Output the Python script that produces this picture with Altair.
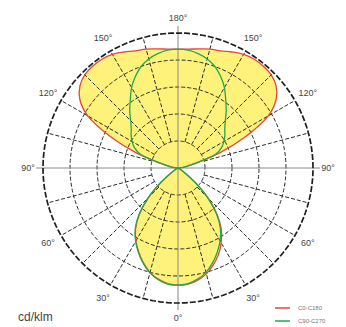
import numpy as np
import pandas as pd
import altair as alt

# ---- data (cd/klm), gamma angle measured from nadir (0 = down, 180 = up) ----
angles = list(range(0, 181, 5))
red_c0 = [217, 216, 211, 203, 191, 177, 160, 140, 113, 79, 42, 15, 4, 0, 0, 0, 0, 0, 0,
          6, 15, 33, 83, 139, 193, 222, 237, 244, 246, 246, 243, 237, 231, 228, 224, 221, 220]
red_c180 = [217, 215, 209, 200, 187, 172, 156, 137, 111, 78, 41, 15, 4, 0, 0, 0, 0, 0, 0,
            6, 15, 33, 83, 139, 193, 222, 237, 244, 246, 246, 243, 237, 231, 228, 224, 221, 220]
green_c90 = [217, 215, 209, 200, 187, 172, 156, 137, 111, 78, 41, 15, 4, 0, 0, 0, 0, 0, 0,
             6, 15, 33, 74, 89, 98, 106, 113, 124, 139, 154, 172, 187, 200, 209, 215, 219, 220]
green_c270 = [217, 216, 210, 201, 188, 173, 157, 138, 112, 78, 41, 15, 4, 0, 0, 0, 0, 0, 0,
              6, 15, 33, 74, 89, 98, 106, 113, 124, 139, 154, 172, 187, 200, 209, 215, 219, 220]
ring_values = [50, 100, 150, 200, 250]
spoke_angles = [15, 30, 45, 60, 75, 105, 120, 135, 150, 165]
label_angles = [0, 30, 60, 90, 120, 150, 180]
unit_label = "cd/klm"
legend_names = ["C0-C180", "C90-C270"]
legend_colors = ["#e8453c", "#22a84a"]

# ---- layout ----
W, H = 330, 319
CX, CY = 170, 160          # pixel centre inside the chart
K = 0.54                   # pixels per cd/klm
xs = alt.Scale(domain=[-CX / K, (W - CX) / K], nice=False, zero=False)
ys = alt.Scale(domain=[-(H - CY) / K, CY / K], nice=False, zero=False)
R_OUT = ring_values[-1]


def polygon(right, left):
    pts = []
    for a, r in zip(angles, right):
        t = np.radians(a)
        pts.append((r * np.sin(t), -r * np.cos(t)))
    for a, r in zip(reversed(angles), reversed(left)):
        t = np.radians(a)
        pts.append((-r * np.sin(t), -r * np.cos(t)))
    out = []
    for p in pts:
        if not out or abs(out[-1][0] - p[0]) + abs(out[-1][1] - p[1]) > 1e-6:
            out.append(p)
    if abs(out[-1][0] - out[0][0]) + abs(out[-1][1] - out[0][1]) > 1e-6:
        out.append(out[0])
    return pd.DataFrame({"x": [p[0] for p in out], "y": [p[1] for p in out],
                         "i": range(len(out))})


red_df = polygon(red_c0, red_c180)
green_df = polygon(green_c90, green_c270)


def enc(ch):
    return ch.encode(x=alt.X("x:Q", scale=xs, axis=None),
                     y=alt.Y("y:Q", scale=ys, axis=None),
                     order=alt.Order("i:Q"))


fill_red = enc(alt.Chart(red_df).mark_line(interpolate="catmull-rom", fill="#fff27a",
                                           strokeWidth=0, strokeOpacity=0))
fill_green = enc(alt.Chart(green_df).mark_line(interpolate="catmull-rom", fill="#fff27a",
                                               strokeWidth=0, strokeOpacity=0))

# rings
ring_rows = []
for rv in ring_values[:-1]:
    for j, t in enumerate(np.linspace(0, 2 * np.pi, 181)):
        ring_rows.append({"ring": rv, "i": j, "x": rv * np.cos(t), "y": rv * np.sin(t)})
rings = alt.Chart(pd.DataFrame(ring_rows)).mark_line(
    color="#2b2b2b", strokeWidth=1, strokeDash=[4, 2]).encode(
    x=alt.X("x:Q", scale=xs, axis=None), y=alt.Y("y:Q", scale=ys, axis=None),
    detail="ring:N", order=alt.Order("i:Q"))
outer_rows = [{"i": j, "x": R_OUT * np.cos(t), "y": R_OUT * np.sin(t)}
              for j, t in enumerate(np.linspace(0, 2 * np.pi, 241))]
outer = enc(alt.Chart(pd.DataFrame(outer_rows)).mark_line(
    color="#1e1e1e", strokeWidth=1.7, strokeDash=[6, 2]))

# spokes
sp = []
for a in spoke_angles:
    t = np.radians(a)
    for s in (1, -1):
        sp.append({"x": s * ring_values[0] * np.sin(t), "y": -ring_values[0] * np.cos(t),
                   "x2": s * R_OUT * np.sin(t), "y2": -R_OUT * np.cos(t)})
spokes = alt.Chart(pd.DataFrame(sp)).mark_rule(
    color="#2b2b2b", strokeWidth=1, strokeDash=[4, 2]).encode(
    x=alt.X("x:Q", scale=xs, axis=None), y=alt.Y("y:Q", scale=ys, axis=None),
    x2="x2:Q", y2="y2:Q")

ext = 263
axes_df = pd.DataFrame({"x": [-ext, 0], "y": [0, -ext], "x2": [ext, 0], "y2": [0, ext]})
axes_lines = alt.Chart(axes_df).mark_rule(color="#8a8a8a", strokeWidth=1).encode(
    x=alt.X("x:Q", scale=xs, axis=None), y=alt.Y("y:Q", scale=ys, axis=None),
    x2="x2:Q", y2="y2:Q")

line_red = enc(alt.Chart(red_df).mark_line(interpolate="catmull-rom", color=legend_colors[0],
                                           strokeWidth=1.3))
line_green = enc(alt.Chart(green_df).mark_line(interpolate="catmull-rom", color=legend_colors[1],
                                               strokeWidth=1.3))

# angle labels
RL = 150 / K
lab = []
for a in label_angles:
    t = np.radians(a)
    sides = (1,) if a in (0, 180) else (1, -1)
    for s in sides:
        lab.append({"x": s * RL * np.sin(t), "y": -RL * np.cos(t), "t": f"{a}°"})
labels = alt.Chart(pd.DataFrame(lab)).mark_text(
    fontSize=9, color="#444", font="Liberation Sans", baseline="middle", align="center").encode(
    x=alt.X("x:Q", scale=xs, axis=None), y=alt.Y("y:Q", scale=ys, axis=None), text="t:N")

unit = alt.Chart(pd.DataFrame({"t": [unit_label]})).mark_text(
    fontSize=12, color="#444", font="Liberation Sans", align="left", baseline="middle").encode(
    x=alt.value(10), y=alt.value(309), text="t:N")

leg_df = pd.DataFrame({"name": legend_names, "c": legend_colors, "yy": [300, 313]})
leg_lines = alt.Chart(leg_df).mark_rule(strokeWidth=1.5).encode(
    x=alt.value(267), x2=alt.value(282), y=alt.Y("yy:Q", scale=None),
    color=alt.Color("c:N", scale=None))
leg_text = alt.Chart(leg_df).mark_text(
    fontSize=6, color="#777", font="Liberation Sans", align="left", baseline="middle").encode(
    x=alt.value(290), y=alt.Y("yy:Q", scale=None), text="name:N")

chart = alt.layer(fill_red, fill_green, rings, spokes, axes_lines, outer,
                  line_red, line_green, labels, unit, leg_lines, leg_text).properties(
    width=W, height=H, padding=0, background="white").configure_view(stroke=None)

chart.save("out.html", embed_options={"renderer": "svg", "actions": False})
